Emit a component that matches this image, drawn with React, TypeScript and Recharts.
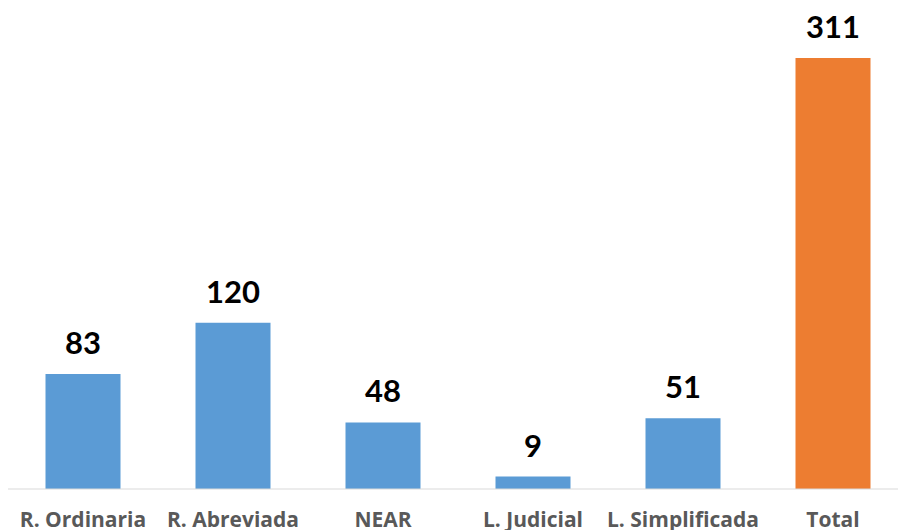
import { Bar, BarChart, Cell, LabelList, XAxis, YAxis } from "recharts";

const categories = ["R. Ordinaria", "R. Abreviada", "NEAR", "L. Judicial", "L. Simplificada", "Total"];
const values = [83, 120, 48, 9, 51, 311];
const colors = ["#5B9BD5", "#5B9BD5", "#5B9BD5", "#5B9BD5", "#5B9BD5", "#ED7D31"];

const data = categories.map((name, i) => ({ name, value: values[i] }));

export default function App() {
  return (
    <div style={{ position: "absolute", left: 0, top: 0, width: 898, height: 530, overflow: "hidden", background: "#fff" }}>
      <BarChart
        width={908}
        height={530}
        data={data}
        margin={{ top: 58, right: 0, bottom: 0, left: 8 }}
        barCategoryGap="25%"
      >
        <XAxis
          dataKey="name"
          height={41}
          axisLine={{ stroke: "#D9D9D9", strokeWidth: 1 }}
          tickLine={false}
          tickSize={0}
          tickMargin={23}
          interval={0}
          tick={{ fill: "#595959", fontSize: 21, fontWeight: 700, fontFamily: "Open Sans" }}
        />
        <YAxis hide domain={[0, 311]} />
        <Bar dataKey="value" isAnimationActive={false}>
          {data.map((d, i) => (
            <Cell key={d.name} fill={colors[i]} />
          ))}
          <LabelList
            dataKey="value"
            position="top"
            offset={20}
            style={{ fill: "#000", fontSize: 31, fontWeight: 700, fontFamily: "Lato" }}
          />
        </Bar>
      </BarChart>
    </div>
  );
}
